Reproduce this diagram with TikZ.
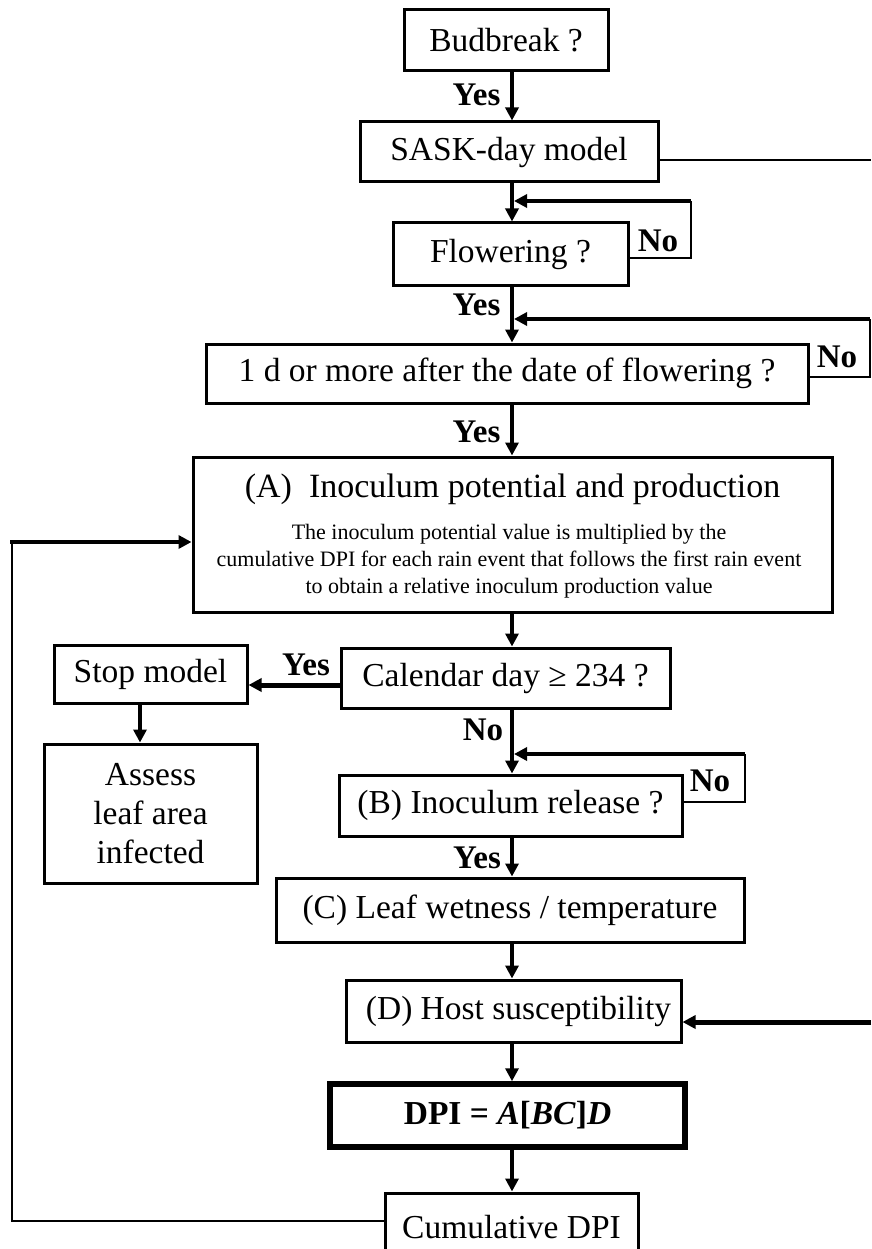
\documentclass[tikz,border=0pt]{standalone}
\usepackage{fontspec}
\setmainfont{Liberation Serif}
\usetikzlibrary{arrows.meta}

\begin{document}
\begin{tikzpicture}[x=1pt,y=-1pt]
\tikzset{
  flowbox/.style={rectangle,draw=black,line width=3pt,inner sep=0pt,align=center,font=\fontsize{33.5}{39}\selectfont},
  flowedge/.style={draw=black,line width=4pt,-{Triangle[length=13pt,width=13pt]}},
  loopedge/.style={draw=black,line width=2.5pt,line join=miter},
  thinedge/.style={draw=black,line width=2pt,line join=miter},
  answer/.style={inner sep=0pt,font=\fontsize{33}{33}\selectfont\bfseries}
}
\clip (0,0) rectangle (871,1249);
\coordinate (c_spine) at (512,0);
\coordinate (c_leftspine) at (140,0);
\coordinate (c_edgeTop) at (871,160);
\coordinate (c_edgeBot) at (871,1022);
\coordinate (c_loopFlow) at (691,201);
\coordinate (c_loopFlowLow) at (0,258);
\coordinate (c_loopOned) at (870,319);
\coordinate (c_loopOnedLow) at (0,377);
\coordinate (c_loopB) at (745,754);
\coordinate (c_loopBLow) at (0,802);
\coordinate (c_yesRow) at (0,685);
\coordinate (c_fbBot) at (12,1221);
\coordinate (c_fbTop) at (12,542);
\node[flowbox,minimum width=204pt,minimum height=61pt] (n_bud) at (506,40.5) {Budbreak ?};
\node[flowbox,minimum width=298pt,minimum height=60pt] (n_sask) at (509,152) {SASK-day model};
\node[flowbox,minimum width=235pt,minimum height=62pt] (n_flow) at (510.5,254) {Flowering ?};
\node[flowbox,minimum width=602pt,minimum height=59pt] (n_oned) at (507,373.5) {1 d or more after the date of flowering ?};
\node[flowbox,minimum width=639pt,minimum height=155pt] (n_A) at (512.5,534.5) {};
\node[inner sep=0pt,font=\fontsize{34}{40}\selectfont] (n_Atitle) at (512.5,489) {(A)\ \ Inoculum potential and production};
\node[inner sep=0pt,align=center,font=\fontsize{22}{27}\selectfont] (n_Atext) at (509,561) {The inoculum potential value is multiplied by the\\cumulative DPI for each rain event that follows the first rain event\\to obtain a relative inoculum production value};
\node[flowbox,minimum width=329pt,minimum height=60pt] (n_cal) at (505.5,678) {Calendar day ≥ 234 ?};
\node[flowbox,minimum width=193pt,minimum height=58pt] (n_stop) at (150.5,674) {Stop model};
\node[flowbox,minimum width=213pt,minimum height=139pt] (n_assess) at (150.5,813.5) {Assess\\leaf area\\infected};
\node[flowbox,minimum width=343pt,minimum height=61pt] (n_B) at (510.5,805.5) {(B) Inoculum release ?};
\node[flowbox,minimum width=468pt,minimum height=64pt] (n_C) at (510,910) {(C) Leaf wetness / temperature};
\node[flowbox,minimum width=335pt,minimum height=62pt] (n_D) at (513.5,1011) {\hspace*{10pt}(D) Host susceptibility};
\node[flowbox,line width=5.5pt,minimum width=355pt,minimum height=63pt,font=\fontsize{33.5}{39}\selectfont\bfseries] (n_dpi) at (507.5,1115.5) {DPI = \textit{A}[\textit{BC}]\textit{D}};
\node[flowbox,minimum width=253pt,minimum height=68pt] (n_cum) at (511.5,1227) {Cumulative DPI};
% yes / no labels
\node[answer] (n_yes1) at (476.5,95) {Yes};
\node[answer] (n_no1) at (658,241) {No};
\node[answer] (n_yes2) at (476.5,305) {Yes};
\node[answer] (n_no2) at (837,357) {No};
\node[answer] (n_yes3) at (476.5,432) {Yes};
\node[answer] (n_yes4) at (306,665) {Yes};
\node[answer] (n_no3) at (483,730) {No};
\node[answer] (n_no4) at (710,781) {No};
\node[answer] (n_yes5) at (477,858) {Yes};
% main line
\draw[flowedge] (n_bud.south -| c_spine) -- (n_sask.north -| c_spine);
\draw[flowedge] (n_sask.south -| c_spine) -- (n_flow.north -| c_spine);
\draw[flowedge] (n_flow.south -| c_spine) -- (n_oned.north -| c_spine);
\draw[flowedge] (n_oned.south -| c_spine) -- (n_A.north -| c_spine);
\draw[flowedge] (n_A.south -| c_spine) -- (n_cal.north -| c_spine);
\draw[flowedge] (n_cal.south -| c_spine) -- (n_B.north -| c_spine);
\draw[flowedge] (n_B.south -| c_spine) -- (n_C.north -| c_spine);
\draw[flowedge] (n_C.south -| c_spine) -- (n_D.north -| c_spine);
\draw[flowedge] (n_D.south -| c_spine) -- (n_dpi.north -| c_spine);
\draw[flowedge] (n_dpi.south -| c_spine) -- (n_cum.north -| c_spine);
% no loops
\draw[loopedge] (n_flow.east |- c_loopFlowLow) -| (c_loopFlow);
\draw[flowedge,line width=4.5pt,shorten >=2pt] (c_loopFlow) -- (c_loopFlow -| c_spine);
\draw[loopedge] (n_oned.east |- c_loopOnedLow) -| (c_loopOned);
\draw[flowedge,line width=4.5pt,shorten >=2pt] (c_loopOned) -- (c_loopOned -| c_spine);
\draw[loopedge] (n_B.east |- c_loopBLow) -| (c_loopB);
\draw[flowedge,line width=4.5pt,shorten >=2pt] (c_loopB) -- (c_loopB -| c_spine);
% side branches
\draw[flowedge,line width=5pt] (n_cal.west |- c_yesRow) -- (n_stop.east |- c_yesRow);
\draw[flowedge] (n_stop.south -| c_leftspine) -- (n_assess.north -| c_leftspine);
\draw[thinedge] (n_sask.east |- c_edgeTop) -- (c_edgeTop);
\draw[flowedge,line width=5pt] (c_edgeBot) -- (n_D.east |- c_edgeBot);
% feedback
\draw[thinedge,line width=2.5pt] (c_fbBot -| n_cum.west) -- (c_fbBot) -- (c_fbTop);
\draw[flowedge,line width=3.5pt,line cap=rect] (c_fbTop) -- (c_fbTop -| n_A.west);
\end{tikzpicture}
\end{document}
